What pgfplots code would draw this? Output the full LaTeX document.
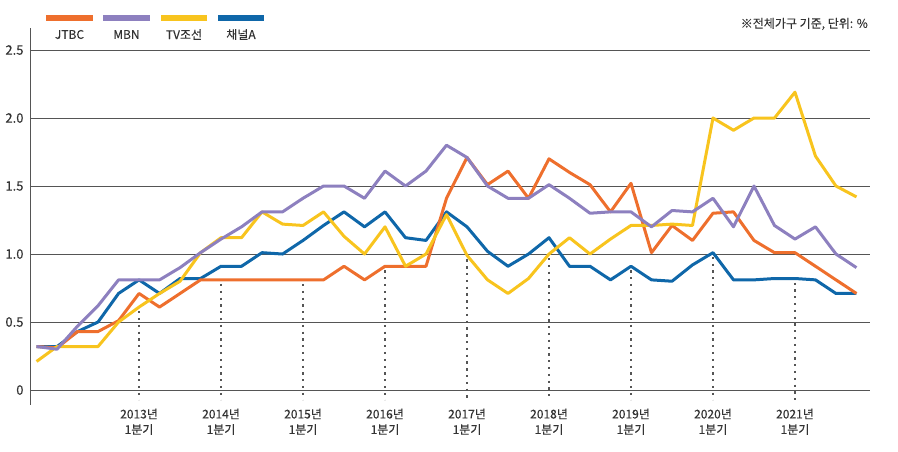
\documentclass[border=0pt]{standalone}
\usepackage{fontspec}
\setmainfont{Noto Sans CJK KR}[FakeBold=0.25]
\usepackage{pgfplots}
\usepackage{pgfplotstable}
\pgfplotsset{compat=1.18}
\definecolor{colJ}{HTML}{EE6F2D}
\definecolor{colM}{HTML}{8D80BF}
\definecolor{colT}{HTML}{F8C41E}
\definecolor{colA}{HTML}{0F67A9}
\definecolor{gridc}{HTML}{555555}
\definecolor{dotc}{HTML}{555555}
\definecolor{txt}{HTML}{333333}
\pgfplotstableread{
k jtbc mbn tv cha
0 0.32 0.32 0.21 0.32
1 0.31 0.30 0.32 0.32
2 0.43 0.47 0.32 0.43
3 0.43 0.62 0.32 0.50
4 0.51 0.81 0.50 0.71
5 0.71 0.81 0.61 0.81
6 0.61 0.81 0.71 0.71
7 0.71 0.90 0.80 0.82
8 0.81 1.01 1.01 0.82
9 0.81 1.11 1.12 0.91
10 0.81 1.20 1.12 0.91
11 0.81 1.31 1.31 1.01
12 0.81 1.31 1.22 1.00
13 0.81 1.41 1.21 1.10
14 0.81 1.50 1.31 1.21
15 0.91 1.50 1.13 1.31
16 0.81 1.41 1.00 1.20
17 0.91 1.61 1.20 1.31
18 0.91 1.50 0.91 1.12
19 0.91 1.61 1.00 1.10
20 1.41 1.80 1.29 1.31
21 1.71 1.71 0.99 1.20
22 1.51 1.50 0.81 1.02
23 1.61 1.41 0.71 0.91
24 1.41 1.41 0.82 1.00
25 1.70 1.51 1.00 1.12
26 1.60 1.41 1.12 0.91
27 1.51 1.30 1.00 0.91
28 1.31 1.31 1.11 0.81
29 1.52 1.31 1.21 0.91
30 1.01 1.20 1.21 0.81
31 1.21 1.32 1.22 0.80
32 1.10 1.31 1.21 0.92
33 1.30 1.41 2.00 1.01
34 1.31 1.20 1.91 0.81
35 1.10 1.50 2.00 0.81
36 1.01 1.21 2.00 0.82
37 1.01 1.11 2.19 0.82
38 0.91 1.20 1.72 0.81
39 0.81 1.00 1.50 0.71
40 0.71 0.90 1.42 0.71
}\datatable
\begin{document}
\begin{tikzpicture}[x=1pt,y=1pt]
\useasboundingbox (0,0) rectangle (898,452);
\begin{axis}[
  at={(30pt,47pt)}, anchor=south west,
  scale only axis, width=840pt, height=377pt,
  xmin=-0.32, xmax=40.66, ymin=-0.11, ymax=2.662,
  axis lines=left, axis line style={-},
  x axis line style={draw=none},
  y axis line style={draw=gridc, line width=0.9pt},
  major tick length=0pt,
  ytick={0,0.5,1,1.5,2,2.5},
  yticklabels={0,0.5,1.0,1.5,2.0,2.5},
  xtick={5,9,13,17,21,25,29,33,37},
  xticklabels={2013년\\1분기,2014년\\1분기,2015년\\1분기,2016년\\1분기,2017년\\1분기,2018년\\1분기,2019년\\1분기,2020년\\1분기,2021년\\1분기},
  xticklabel style={align=center, font=\fontsize{12}{15.5}\selectfont, text=txt, yshift=0pt},
  yticklabel style={font=\fontsize{13}{15}\selectfont, text=txt, xshift=-3pt},
  ymajorgrids, grid style={draw=gridc, line width=0.9pt},
  clip=false,
  dotl/.style={draw=dotc, line width=2.3pt, dash pattern=on 2.3pt off 4.5pt},
]
\addplot[dotl] coordinates {(5,0.58) (5,-0.07)};
\addplot[dotl] coordinates {(9,0.78) (9,-0.07)};
\addplot[dotl] coordinates {(13,0.78) (13,-0.07)};
\addplot[dotl] coordinates {(17,0.88) (17,-0.07)};
\addplot[dotl] coordinates {(21,0.96) (21,-0.07)};
\addplot[dotl] coordinates {(25,0.97) (25,-0.07)};
\addplot[dotl] coordinates {(29,0.88) (29,-0.07)};
\addplot[dotl] coordinates {(33,0.98) (33,-0.07)};
\addplot[dotl] coordinates {(37,0.79) (37,-0.07)};
\addplot[colA, line width=3pt, line join=round, no marks] table[x=k,y=cha]{\datatable};
\addplot[colJ, line width=3pt, line join=round, no marks] table[x=k,y=jtbc]{\datatable};
\addplot[colT, line width=3pt, line join=round, no marks] table[x=k,y=tv]{\datatable};
\addplot[colM, line width=3pt, line join=round, no marks] table[x=k,y=mbn]{\datatable};
\end{axis}
% legend
\fill[colJ] (46,431) rectangle (93,437);
\fill[colM] (103,431) rectangle (150,437);
\fill[colT] (161,431) rectangle (207,437);
\fill[colA] (218,431) rectangle (264,437);
\begin{scope}[every node/.style={font=\fontsize{12}{13}\selectfont, text=txt, inner sep=0pt}]
\node at (69.5,417.5) {JTBC};
\node at (126.5,417.5) {MBN};
\node at (184,417.5) {TV조선};
\node at (241,417.5) {채널A};
\node[anchor=east] at (868,428) {※전체가구 기준, 단위: \%};
\end{scope}
\end{tikzpicture}
\end{document}
